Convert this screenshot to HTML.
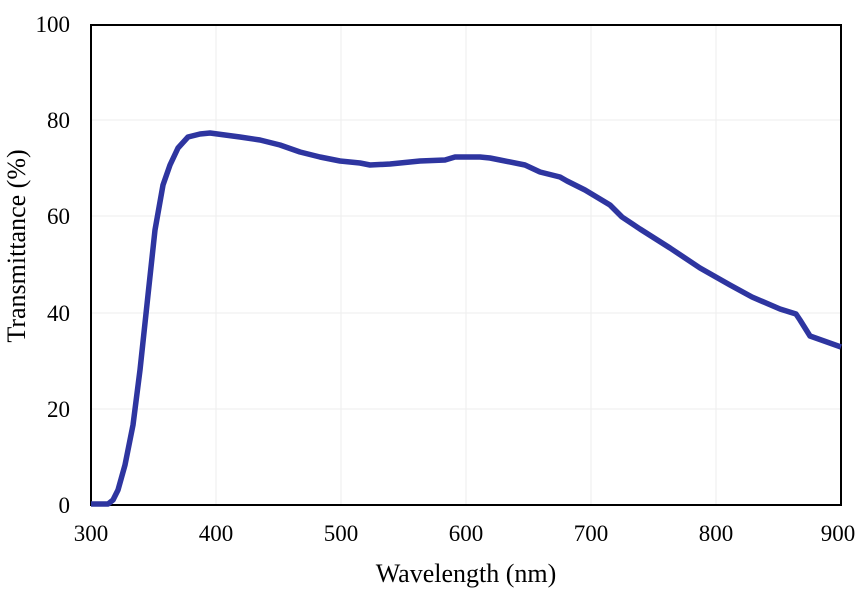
<!DOCTYPE html><html><head><style>body{margin:0;background:#fff}</style></head><body>
<svg width="868" height="590" xmlns="http://www.w3.org/2000/svg" font-family="Liberation Serif, serif">
<g stroke="#eeeeee" stroke-width="1">
<line x1="91" y1="120" x2="841" y2="120"/><line x1="91" y1="216" x2="841" y2="216"/><line x1="91" y1="313" x2="841" y2="313"/><line x1="91" y1="409" x2="841" y2="409"/>
<line x1="216" y1="25" x2="216" y2="505"/><line x1="341" y1="25" x2="341" y2="505"/><line x1="466" y1="25" x2="466" y2="505"/><line x1="591" y1="25" x2="591" y2="505"/><line x1="716" y1="25" x2="716" y2="505"/>
</g>
<rect x="91" y="25" width="750" height="480" fill="none" stroke="#000" stroke-width="2"/>
<polyline fill="none" stroke="#2e35a0" stroke-width="5.5" stroke-linejoin="round" points="91,504 108,504 113,500 118,490 125,465 133,425 140,370 148,295 155,230 163,185 170,165 178,148 188,137 200,134 210,133 225,135 240,137 260,140 280,145 300,152 320,157 340,161 360,163 370,165 390,164 410,162 420,161 445,160 455,157 480,157 490,158 500,160 525,165 540,172 560,177 567,181 585,190 610,205 622,217 640,229 670,248 700,268 730,285 752,297 780,309 796,314 800,320 810,336 841,347"/>
<g font-size="23" fill="#000" text-anchor="end">
<text x="70" y="32">100</text><text x="70" y="128">80</text><text x="70" y="224">60</text><text x="70" y="321">40</text><text x="70" y="417">20</text><text x="70" y="513">0</text>
</g>
<g font-size="23" fill="#000" text-anchor="middle">
<text x="91" y="541">300</text><text x="216" y="541">400</text><text x="341" y="541">500</text><text x="466" y="541">600</text><text x="591" y="541">700</text><text x="716" y="541">800</text><text x="838" y="541">900</text>
<text x="466" y="582" font-size="26">Wavelength (nm)</text>
<text transform="translate(25,246) rotate(-90)" font-size="26">Transmittance  (%)</text>
</g>
</svg></body></html>
